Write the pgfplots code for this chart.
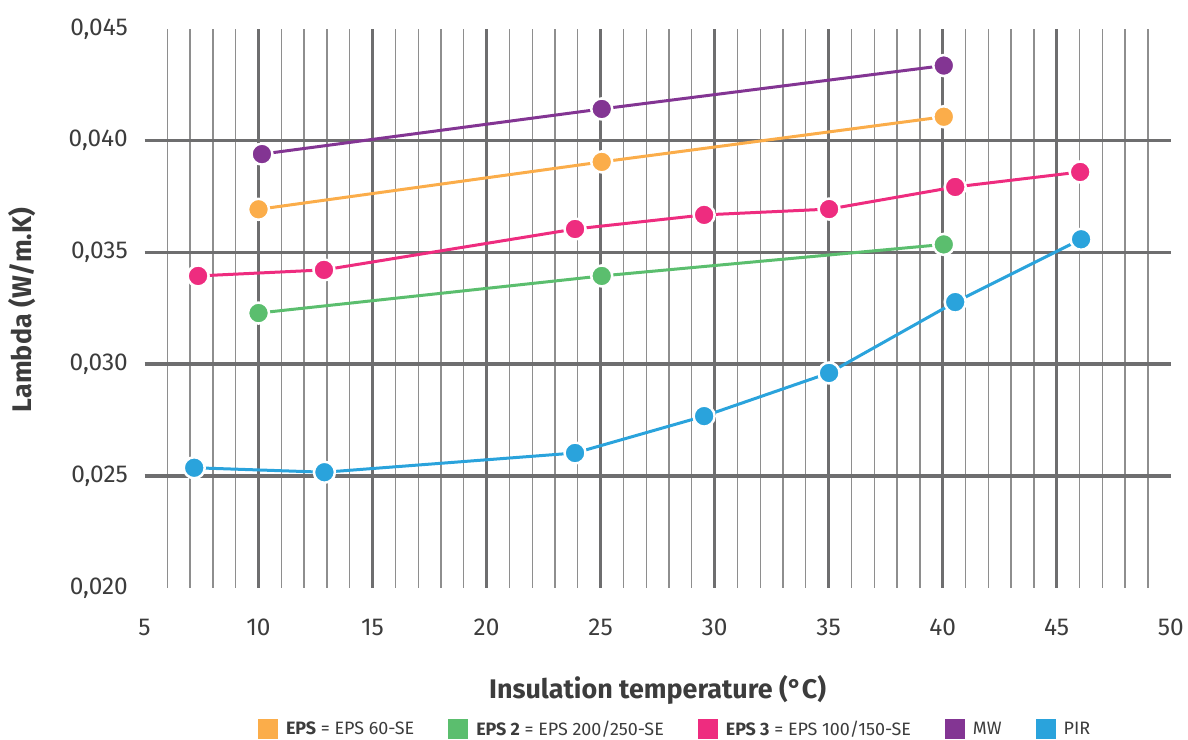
\documentclass[border=0pt]{standalone}
\usepackage{pgfplots}
\pgfplotsset{compat=1.18}
\usepackage{fontspec}
\setmainfont{Fira Sans}
\definecolor{cEPS}{HTML}{FBAD4A}
\definecolor{cEPStwo}{HTML}{5BBE6E}
\definecolor{cEPSthree}{HTML}{EE2C7F}
\definecolor{cMW}{HTML}{833593}
\definecolor{cPIR}{HTML}{2AA3DC}
\definecolor{gmaj}{HTML}{6E6E6F}
\definecolor{gmin}{HTML}{8E8E8E}
\definecolor{txt}{HTML}{3C3C3C}
\pgfplotsset{
  ser/.style={color=#1, line width=3bp, mark=*, mark size=10.5bp,
    mark options={fill=#1, draw=white, line width=2.5bp, solid}},
}
\begin{document}
\begin{tikzpicture}
\useasboundingbox (0,0) rectangle (1188bp,740bp);
\begin{axis}[
  at={(144.5bp,152.2bp)}, anchor=south west,
  scale only axis, width=1026.2bp, height=558.9bp,
  xmin=5, xmax=50, ymin=0.020, ymax=0.045,
  clip=false,
  axis line style={draw=none},
  major tick length=0pt,
  xtick={5,10,15,20,25,30,35,40,45,50},
  ytick={0.020,0.025,0.030,0.035,0.040,0.045},
  scaled y ticks=false,
  /pgf/number format/.cd, use comma, fixed, fixed zerofill, precision=3, assume math mode=true,
  /pgfplots/.cd,
  xticklabel style={/pgf/number format/precision=0, /pgf/number format/fixed zerofill=false},
  tick label style={font=\fontsize{24.5}{28}\selectfont, text=txt},
  yticklabel style={anchor=east, inner sep=0pt, xshift=-16.5bp},
  xticklabel style={anchor=north, inner sep=0pt, yshift=-31bp},
  xlabel={Insulation temperature (°C)},
  ylabel={Lambda (W/m.K)},
  label style={font=\bfseries\fontsize{27}{32}\selectfont, text=txt},
  xlabel style={at={(axis description cs:0.5,-0.183)}, anchor=center},
  ylabel style={at={(axis description cs:-0.119,0.497)}, anchor=center},
  legend columns=5,
  legend image code/.code={\fill[draw=none,#1] (0bp,-10bp) rectangle (20bp,10bp);},
  legend style={at={(0.52,-0.2523)}, anchor=center, draw=none, fill=none,
    font=\fontsize{18}{22}\selectfont, text=txt,
    nodes={inner xsep=8bp},
    /tikz/every even column/.append style={column sep=26bp}},
]
% minor vertical grid
\pgfplotsinvokeforeach{6,7,8,9,11,12,13,14,16,17,18,19,21,22,23,24,26,27,28,29,31,32,33,34,36,37,38,39,41,42,43,44,46,47,48,49}{
  \draw[gmin, line width=1.3bp] (axis cs:#1,0.020) -- (axis cs:#1,0.045);
}
\pgfplotsinvokeforeach{10,15,20,25,30,35,40,45}{
  \draw[gmaj, line width=3bp] (axis cs:#1,0.020) -- (axis cs:#1,0.045);
}
\pgfplotsinvokeforeach{0.025,0.030,0.035,0.040}{
  \draw[gmaj, line width=3.5bp] (axis cs:5,#1) -- (axis cs:50,#1);
}
\addplot[ser=cEPS] coordinates {(10.0,0.03693) (25.05,0.03905) (40.05,0.04107)};
\addlegendentry{\textbf{EPS} = EPS 60-SE}
\addplot[ser=cEPStwo] coordinates {(10.0,0.03229) (25.05,0.03395) (40.05,0.03536)};
\addlegendentry{\textbf{EPS 2} = EPS 200/250-SE}
\addplot[ser=cEPSthree] coordinates {(7.35,0.03395) (12.87,0.03422) (23.88,0.03605) (29.54,0.03668) (35.02,0.03694) (40.55,0.03793) (46.03,0.0386)};
\addlegendentry{\textbf{EPS 3} = EPS 100/150-SE}
\addplot[ser=cMW] coordinates {(10.15,0.0394) (25.05,0.04142) (40.05,0.04336)};
\addlegendentry{MW}
\addplot[ser=cPIR] coordinates {(7.18,0.02537) (12.89,0.02517) (23.88,0.02603) (29.54,0.02768) (35.02,0.02961) (40.55,0.03278) (46.07,0.03559)};
\addlegendentry{PIR}
\end{axis}
\end{tikzpicture}
\end{document}
